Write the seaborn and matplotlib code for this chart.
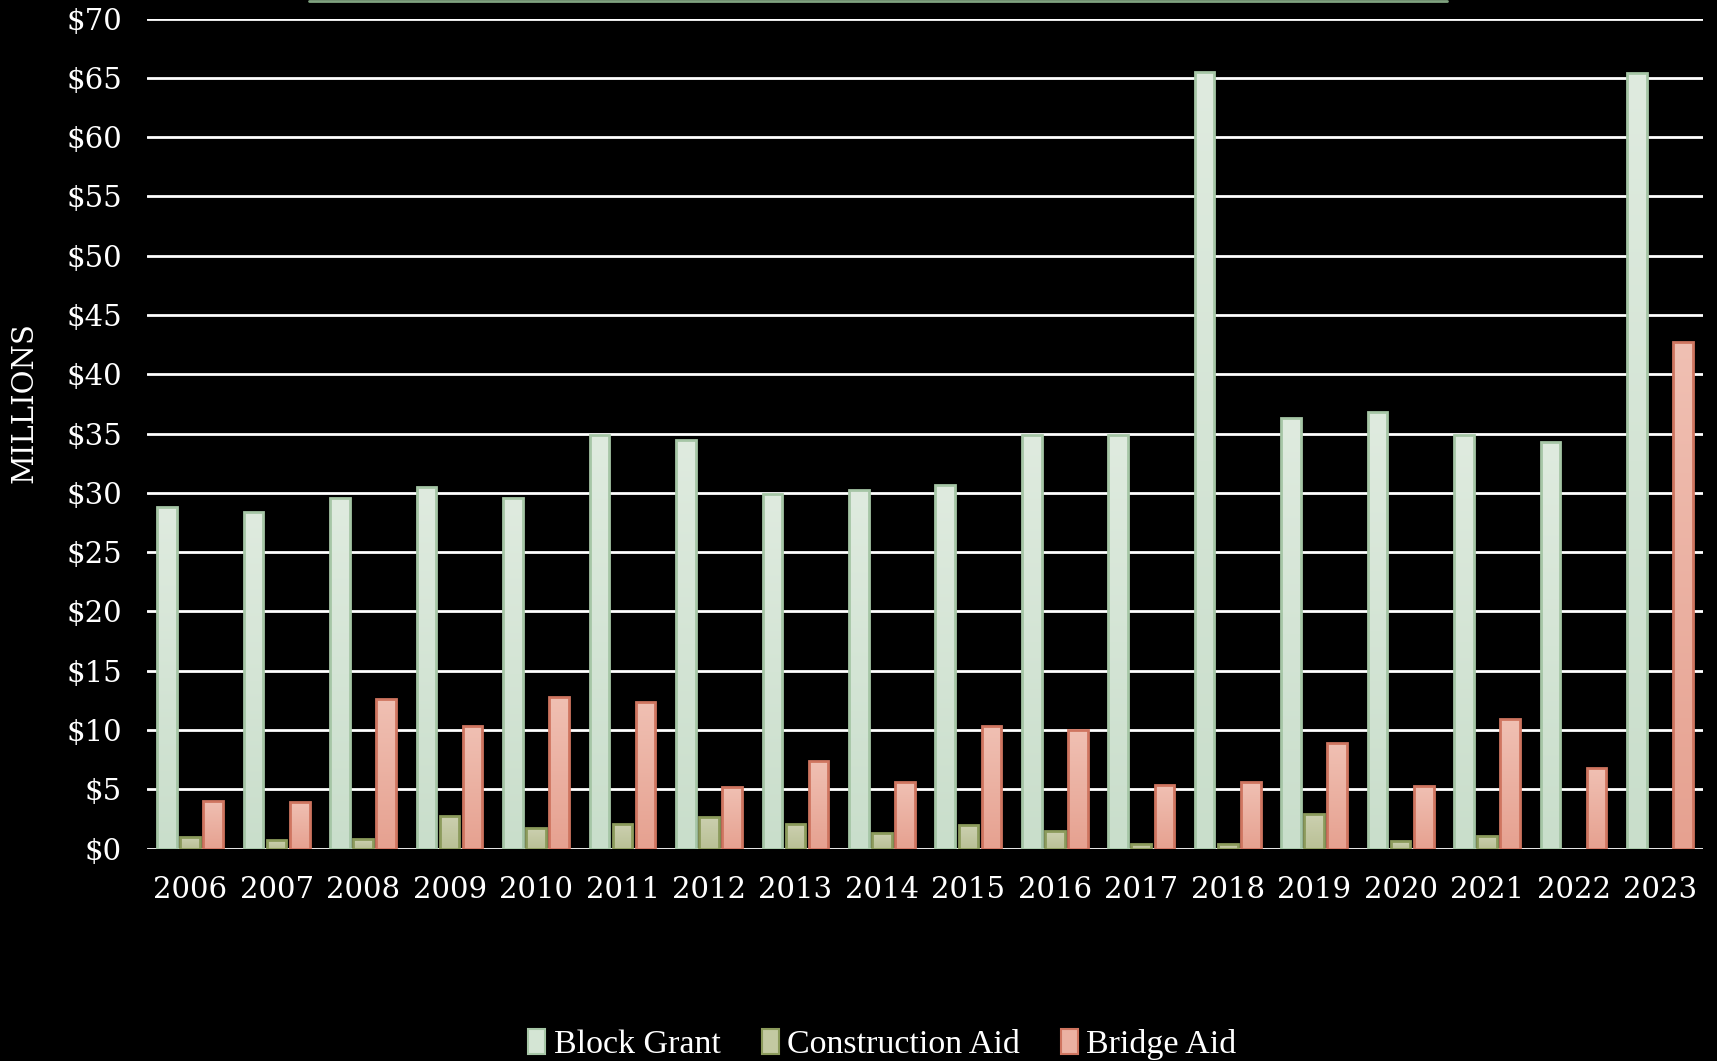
import numpy as np
import pandas as pd
import matplotlib.pyplot as plt
from matplotlib.colors import LinearSegmentedColormap
import seaborn as sns

# data (millions of dollars)
years = [str(y) for y in range(2006, 2024)]
block_grant = [28.8, 28.4, 29.6, 30.5, 29.6, 34.9, 34.5, 29.9, 30.2, 30.7,
               34.9, 34.9, 65.5, 36.3, 36.8, 34.9, 34.3, 65.4]
construction_aid = [1.0, 0.75, 0.8, 2.75, 1.7, 2.1, 2.7, 2.1, 1.3, 1.95,
                    1.5, 0.4, 0.35, 2.9, 0.65, 1.1, np.nan, np.nan]
bridge_aid = [4.05, 3.9, 12.65, 10.3, 12.8, 12.4, 5.2, 7.4, 5.6, 10.3,
              10.0, 5.35, 5.6, 8.9, 5.3, 10.9, 6.8, 42.75]
series = ['Block Grant', 'Construction Aid', 'Bridge Aid']

df = pd.DataFrame({'Year': years, 'Block Grant': block_grant,
                   'Construction Aid': construction_aid, 'Bridge Aid': bridge_aid})
df = df.melt(id_vars='Year', var_name='Series', value_name='Value')

fills = ['#d4e5d4', '#c3c9a2', '#ebb1a2']
tops = ['#dfebdf', '#ccd0b0', '#f0c0b3']
bottoms = ['#c9decb', '#b9c095', '#e6a190']
edges = ['#a6c6a6', '#8c9b5c', '#cf7560']

sns.set_style('dark')
plt.rcParams['font.family'] = ['DejaVu Serif']
fig = plt.figure(figsize=(17.17, 10.61), dpi=100, facecolor='black')
ax = fig.add_axes([0.0856, 0.2002, 0.9064, 0.7823])
ax.set_facecolor('black')

sns.barplot(data=df, x='Year', y='Value', hue='Series', hue_order=series,
            palette=fills, width=0.8, gap=0.15, ax=ax, legend=False)

ax.set_ylim(0, 70)
ax.set_xlim(-0.5, len(years) - 0.5)

# vertical gradient inside each bar, edge drawn on top
for cont, top, bot, ec in zip(ax.containers, tops, bottoms, edges):
    cmap = LinearSegmentedColormap.from_list('g', [bot, top])
    for bar in cont:
        h = bar.get_height()
        if not np.isfinite(h) or h <= 0:
            continue
        x0, w = bar.get_x(), bar.get_width()
        grad = np.linspace(0, 1, 256).reshape(-1, 1)
        im = ax.imshow(grad, cmap=cmap, origin='lower', aspect='auto',
                       extent=(x0, x0 + w, 0, h), zorder=bar.get_zorder())
        im.set_clip_path(bar)
        bar.set_facecolor('none')
        bar.set_edgecolor(ec)
        bar.set_linewidth(2)
        bar.set_zorder(bar.get_zorder() + 0.1)

ax.set_ylim(0, 70)
ax.set_xlim(-0.5, len(years) - 0.5)
ax.set_yticks(range(0, 71, 5))
ax.set_yticklabels([f'${v}' for v in range(0, 71, 5)])
ax.grid(axis='y', color='white', linewidth=2)
ax.grid(axis='x', visible=False)
ax.set_axisbelow(True)
for s in ax.spines.values():
    s.set_visible(False)
ax.tick_params(axis='both', length=0, colors='white', labelsize=21)
ax.tick_params(axis='y', pad=18)
ax.tick_params(axis='x', pad=20)
ax.set_xlabel('')
ax.set_ylabel('MILLIONS', color='white', fontsize=21, labelpad=18)
ax.yaxis.set_label_coords(-0.07, 0.537)

handles = [plt.Rectangle((0, 0), 1, 1, facecolor=f, edgecolor=e, linewidth=1.5)
           for f, e in zip(fills, edges)]
fig.legend(handles, series, loc='lower center', bbox_to_anchor=(0.514, -0.028),
           ncol=3, frameon=False, labelcolor='white',
           prop={'family': 'Liberation Serif', 'size': 24.5},
           handlelength=0.5, handleheight=0.75, handletextpad=0.25, columnspacing=1.2)

# thin green rule at the top edge (cut-off title box)
fig.add_artist(plt.Line2D([0.18, 0.843], [0.999, 0.999], color='#7fa27f', linewidth=2))

fig.savefig('out.png', dpi=100, facecolor='black')
